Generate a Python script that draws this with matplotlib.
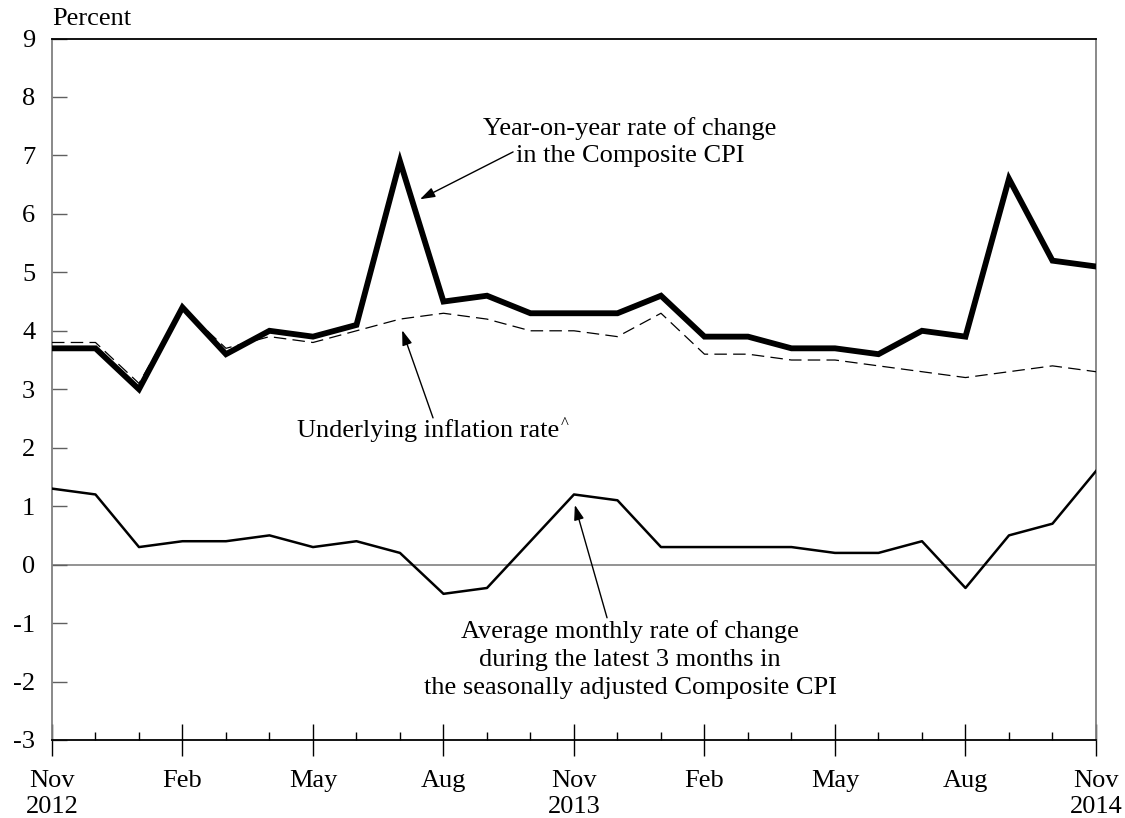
import matplotlib.pyplot as plt

plt.rcParams['font.family'] = ['Liberation Serif', 'DejaVu Serif']
plt.rcParams['axes.unicode_minus'] = False

months = ['Nov 2012', 'Dec', 'Jan 2013', 'Feb', 'Mar', 'Apr', 'May', 'Jun', 'Jul', 'Aug', 'Sep', 'Oct',
          'Nov 2013', 'Dec', 'Jan 2014', 'Feb', 'Mar', 'Apr', 'May', 'Jun', 'Jul', 'Aug', 'Sep', 'Oct',
          'Nov 2014']
yoy_cpi = [3.7, 3.7, 3.0, 4.4, 3.6, 4.0, 3.9, 4.1, 6.9, 4.5, 4.6, 4.3,
           4.3, 4.3, 4.6, 3.9, 3.9, 3.7, 3.7, 3.6, 4.0, 3.9, 6.6, 5.2, 5.1]
underlying = [3.8, 3.8, 3.1, 4.4, 3.7, 3.9, 3.8, 4.0, 4.2, 4.3, 4.2, 4.0,
              4.0, 3.9, 4.3, 3.6, 3.6, 3.5, 3.5, 3.4, 3.3, 3.2, 3.3, 3.4, 3.3]
monthly_avg = [1.3, 1.2, 0.3, 0.4, 0.4, 0.5, 0.3, 0.4, 0.2, -0.5, -0.4, 0.4,
               1.2, 1.1, 0.3, 0.3, 0.3, 0.3, 0.2, 0.2, 0.4, -0.4, 0.5, 0.7, 1.6]
major_labels = ['Nov\n2012', 'Feb', 'May', 'Aug', 'Nov\n2013', 'Feb', 'May', 'Aug', 'Nov\n2014']

x = list(range(len(months)))

fig = plt.figure(figsize=(11.25, 8.18), dpi=100)
ax = fig.add_axes([0.0462, 0.0954, 0.928, 0.8575])

ax.axhline(0, color='#808080', lw=1.2, zorder=1)
ax.plot(x, monthly_avg, color='black', lw=1.8, zorder=3)
ax.plot(x, underlying, color='black', lw=0.9, dashes=[10, 5], zorder=3)
ax.plot(x, yoy_cpi, color='black', lw=4.2, solid_joinstyle='miter', zorder=4)

ax.set_xlim(0, 24)
ax.set_ylim(-3, 9)
ax.set_yticks(range(-3, 10))
ax.set_xticks(range(0, 25, 3))
ax.set_xticklabels(major_labels)
ax.set_xticks(range(25), minor=True)

ax.tick_params(axis='y', direction='in', length=11, width=1, color='#606060',
               labelsize=19, pad=12, right=False)
ax.tick_params(axis='x', which='major', direction='inout', length=23, width=1,
               labelsize=19, pad=10, top=False)
ax.tick_params(axis='x', which='minor', direction='in', length=6, width=1, top=False)
for lab in ax.get_xticklabels():
    lab.set_linespacing(1.25)

for side in ['left', 'right']:
    ax.spines[side].set_color('#808080')
    ax.spines[side].set_linewidth(1.3)
for side in ['top', 'bottom']:
    ax.spines[side].set_color('black')
    ax.spines[side].set_linewidth(1.3)

arrow = dict(arrowstyle='-|>,head_length=0.9,head_width=0.3', color='black', lw=1, shrinkA=0, shrinkB=0)

ax.annotate('', xy=(8.46, 6.25), xytext=(10.6, 7.06), arrowprops=arrow)
ax.text(13.29, 7.23, 'Year-on-year rate of change\nin the Composite CPI',
        ha='center', va='center', fontsize=19, linespacing=1.35)

ax.annotate('', xy=(8.05, 4.01), xytext=(8.76, 2.51), arrowprops=arrow)
txt = ax.text(8.65, 2.30, 'Underlying inflation rate', ha='center', va='center', fontsize=19)
ax.annotate('^', xy=(1, 1), xycoords=txt, xytext=(1, 2), textcoords='offset points',
            ha='left', va='top', fontsize=12)

ax.annotate('', xy=(12.02, 1.02), xytext=(12.76, -0.91), arrowprops=arrow)
ax.text(13.29, -1.63, 'Average monthly rate of change\nduring the latest 3 months in\n'
        'the seasonally adjusted Composite CPI',
        ha='center', va='center', fontsize=19, linespacing=1.35)

fig.text(0.0462, 1 - 8 / 818, 'Percent', ha='left', va='top', fontsize=19)

fig.savefig('out.png', dpi=100)
